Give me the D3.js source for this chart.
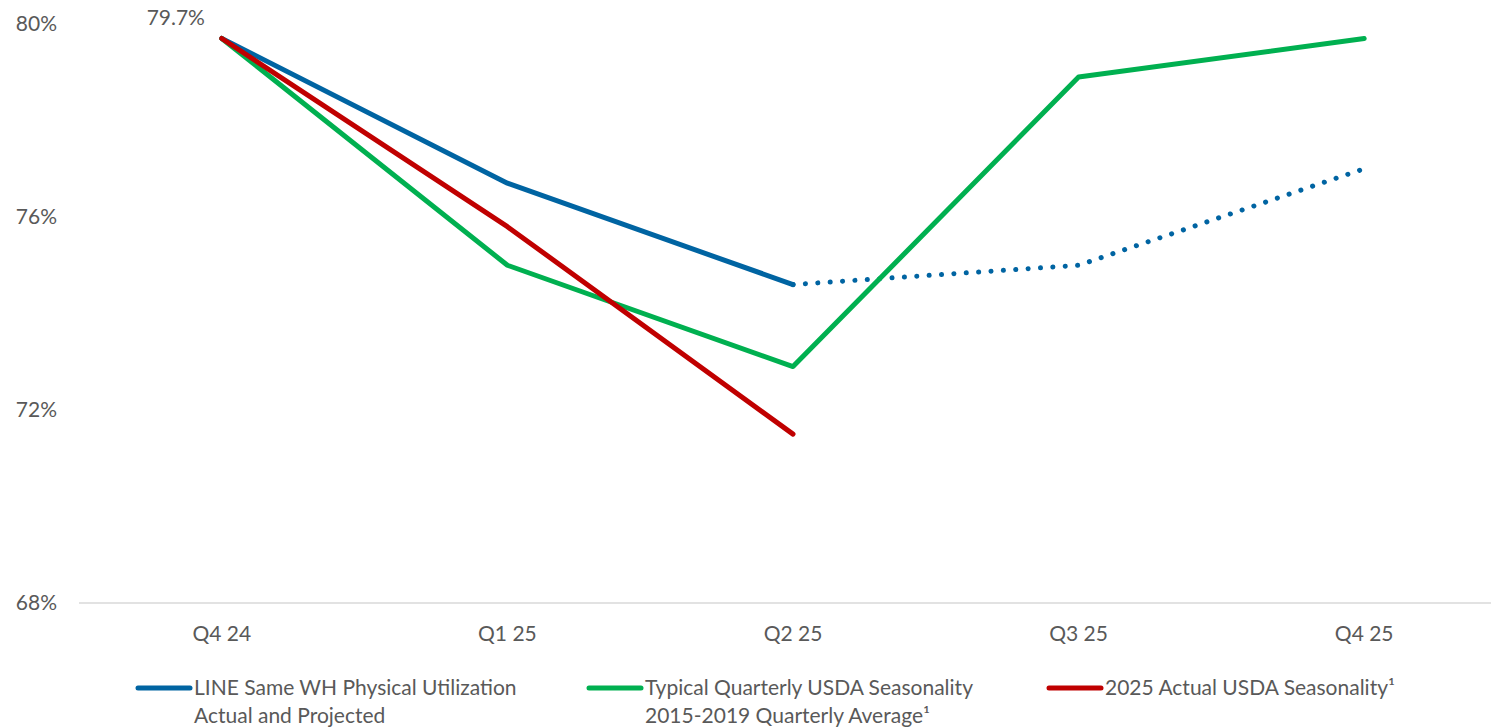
<!DOCTYPE html>
<html>
<head>
<meta charset="utf-8">
<script src="https://cdn.jsdelivr.net/npm/d3@7"></script>
<style>
  body { margin: 0; background: #fff; }
  svg text { font-family: Lato, "Open Sans", sans-serif; fill: #595959; }
</style>
</head>
<body>
<script>
// quarters on the x axis
var quarters = ["Q4 24", "Q1 25", "Q2 25", "Q3 25", "Q4 25"];
var yTicks = [68, 72, 76, 80];

// LINE same warehouse utilization: actual (solid) then projected (dotted)
var lineActual = [79.7, 76.7, 74.6, null, null];
var lineProjected = [null, null, 74.6, 75.0, 77.0];
// typical USDA seasonality, 2015-2019 quarterly average
var typical = [79.7, 75.0, 72.9, 78.9, 79.7];
// 2025 actual USDA seasonality
var actual2025 = [79.7, 75.8, 71.5, null, null];

var legendItems = [
  {lines: ["LINE Same WH Physical Utilization", "Actual and Projected"], color: "#0064a2", x: 136},
  {lines: ["Typical Quarterly USDA Seasonality", "2015-2019 Quarterly Average\u00b9"], color: "#00b050", x: 587},
  {lines: ["2025 Actual USDA Seasonality\u00b9"], color: "#c00000", x: 1047}
];

var width = 1491, height = 728;
var fontSize = 21;

var svg = d3.select("body").append("svg")
    .attr("width", width)
    .attr("height", height);

var x = d3.scalePoint()
    .domain(quarters)
    .range([79, 1507])
    .padding(0.5);

var y = d3.scaleLinear()
    .domain([68, 80])
    .range([603, 24]);

// baseline
svg.append("line")
    .attr("x1", 79).attr("x2", width)
    .attr("y1", y(68)).attr("y2", y(68))
    .attr("stroke", "#d9d9d9")
    .attr("stroke-width", 1.3);

// y tick labels
svg.selectAll("text.ytick")
    .data(yTicks)
  .enter().append("text")
    .attr("class", "ytick")
    .attr("x", 57)
    .attr("y", function(d) { return y(d); })
    .attr("dy", "0.35em")
    .attr("text-anchor", "end")
    .attr("font-size", fontSize)
    .text(function(d) { return d + "%"; });

// x tick labels
svg.selectAll("text.xtick")
    .data(quarters)
  .enter().append("text")
    .attr("class", "xtick")
    .attr("x", function(d) { return x(d); })
    .attr("y", 641)
    .attr("text-anchor", "middle")
    .attr("font-size", fontSize)
    .text(function(d) { return d; });

var line = d3.line()
    .defined(function(d) { return d != null; })
    .x(function(d, i) { return x(quarters[i]); })
    .y(function(d) { return y(d); });

function drawSeries(data, color, dash) {
  svg.append("path")
      .datum(data)
      .attr("fill", "none")
      .attr("stroke", color)
      .attr("stroke-width", 5)
      .attr("stroke-linecap", "round")
      .attr("stroke-linejoin", "round")
      .attr("stroke-dasharray", dash || null)
      .attr("d", line);
}

drawSeries(lineProjected, "#0064a2", "0.1 12.3");
drawSeries(lineActual, "#0064a2");
drawSeries(typical, "#00b050");
drawSeries(actual2025, "#c00000");

// data label on first point
svg.append("text")
    .attr("x", x(quarters[0]) - 46)
    .attr("y", y(lineActual[0]) - 21)
    .attr("dy", "0.35em")
    .attr("text-anchor", "middle")
    .attr("font-size", fontSize)
    .text(lineActual[0].toFixed(1) + "%");

// legend
var legend = svg.selectAll("g.legend")
    .data(legendItems)
  .enter().append("g")
    .attr("class", "legend")
    .attr("transform", function(d) { return "translate(" + d.x + ",688)"; });

legend.append("line")
    .attr("x1", 2).attr("x2", 54)
    .attr("stroke", function(d) { return d.color; })
    .attr("stroke-width", 5)
    .attr("stroke-linecap", "round");

legend.append("text")
    .attr("x", 58)
    .attr("font-size", fontSize)
    .selectAll("tspan")
    .data(function(d) { return d.lines; })
  .enter().append("tspan")
    .attr("x", 58)
    .attr("y", function(d, i) { return 7 + i * 28; })
    .text(function(d) { return d; });
</script>
</body>
</html>
